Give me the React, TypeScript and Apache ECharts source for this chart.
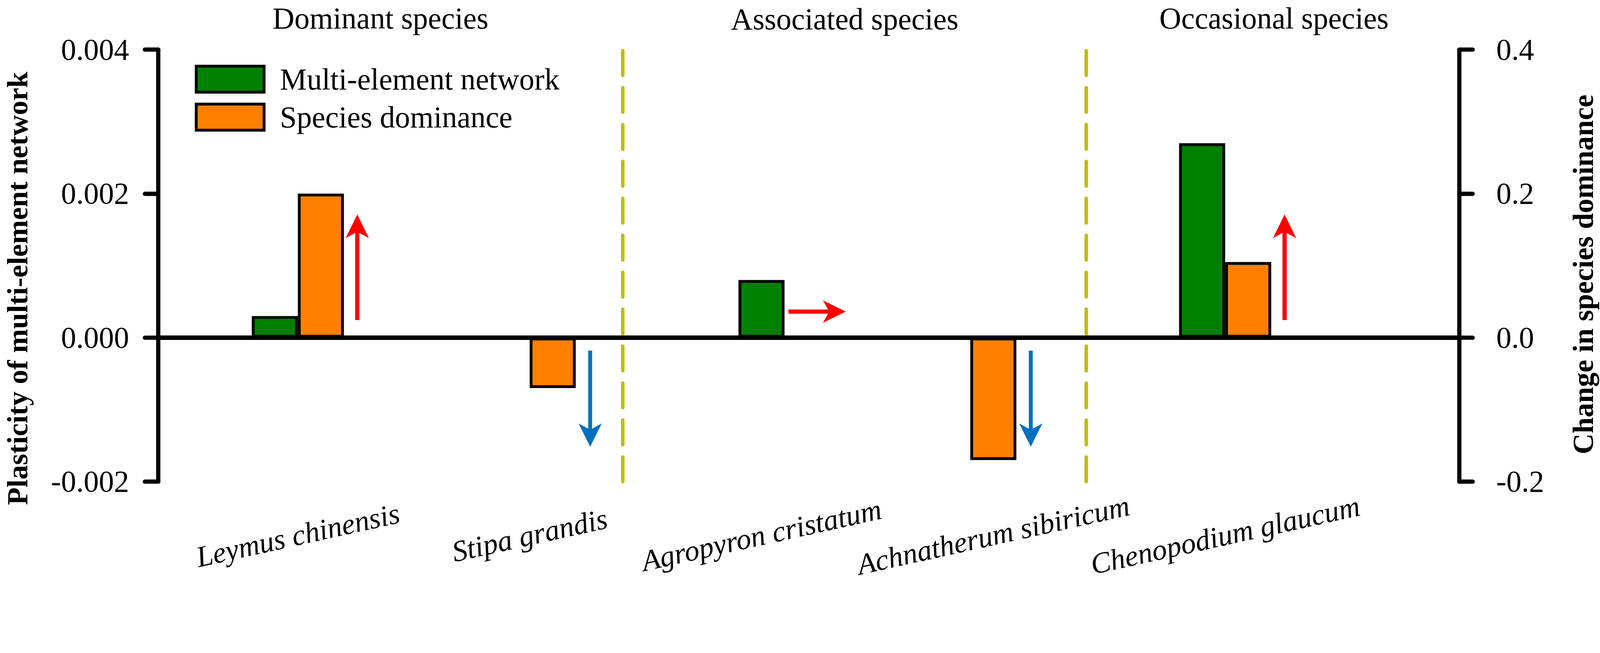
import React, { useEffect, useRef } from "react";
import * as echarts from "echarts";

// ---------- data ----------
const species = [
  "Leymus chinensis",
  "Stipa grandis",
  "Agropyron cristatum",
  "Achnatherum sibiricum",
  "Chenopodium glaucum",
];
// Plasticity of multi-element network (left axis); null = no bar drawn
const networkPlasticity: (number | null)[] = [0.0003, 0, 0.0008, null, 0.0027];
// Change in species dominance (right axis); null = no change (→)
const dominanceChange: (number | null)[] = [0.2, -0.07, null, -0.17, 0.105];

const groupNames = ["Dominant species", "Associated species", "Occasional species"];
const groupSizes = [2, 2, 1];

const leftTicks = { min: -0.002, max: 0.004, interval: 0.002 };
const rightTicks = { min: -0.2, max: 0.4, interval: 0.2 };

const seriesNames = ["Multi-element network", "Species dominance"];
const leftAxisName = "Plasticity of multi-element network";
const rightAxisName = "Change in species dominance";

// ---------- style constants ----------
const W = 4550;
const H = 1671;
const FONT = "'Liberation Serif', 'Times New Roman', Times, serif";
const GREEN = "#008000";
const ORANGE = "#FF8000";
const RED = "#FF0000";
const BLUE = "#0070C0";
const DASH = "#BFBF00";
const BAR_W = 131;
const BORDER = 8;
const GRID = { left: 450, right: W - 4150, top: 141, bottom: H - 1369 };
const X_MIN = -0.6022;
const X_MAX = 5.0102;

export default function App() {
  const ref = useRef<HTMLDivElement>(null);

  useEffect(() => {
    if (!ref.current) return;
    document.body.style.margin = "0";
    const s = Math.min(window.innerWidth / W, window.innerHeight / H) || 1;
    if (Math.abs(s - 1) > 0.001) {
      ref.current.style.transform = `scale(${s})`;
    }
    const chart = echarts.init(ref.current, null, { renderer: "svg", width: W, height: H });

    const isPair = species.map(
      (_, i) => networkPlasticity[i] !== null && dominanceChange[i] !== null
    );
    const greenPair = species
      .map((_, i) => (isPair[i] ? [i, networkPlasticity[i]] : null))
      .filter(Boolean);
    const orangePair = species
      .map((_, i) => (isPair[i] ? [i, dominanceChange[i]] : null))
      .filter(Boolean);
    const greenSingle = species
      .map((_, i) => (!isPair[i] && networkPlasticity[i] !== null ? [i, networkPlasticity[i]] : null))
      .filter(Boolean);
    const orangeSingle = species
      .map((_, i) => (!isPair[i] && dominanceChange[i] !== null ? [i, dominanceChange[i]] : null))
      .filter(Boolean);

    const arrowData = species.map((_, i) => {
      const d = dominanceChange[i];
      const dir = d === null || d === 0 ? 0 : d > 0 ? 1 : -1;
      return [i, 0, dir, isPair[i] ? 1 : 0];
    });

    // group boundaries between categories
    const boundaries: number[] = [];
    let acc = 0;
    groupSizes.forEach((sz, k) => {
      acc += sz;
      if (k < groupSizes.length - 1) boundaries.push(acc - 0.5);
    });

    const frameLine = { color: "#000", width: 12, type: "solid" as const };
    const dashLine = { color: DASH, width: 10, type: [70, 35], cap: "round" as const };

    const xAxisBase = {
      type: "value" as const,
      min: X_MIN,
      max: X_MAX,
      position: "bottom" as const,
      axisLine: { show: false, onZero: false },
      axisTick: { show: false },
      splitLine: { show: false },
    };

    const yLabel = {
      fontFamily: FONT,
      fontSize: 86,
      color: "#000",
    };

    const groupTitleX = [1082, 2402, 3623];
    const groupTitleY = [9, 11, 9];

    const option: any = {
      animation: false,
      backgroundColor: "#fff",
      textStyle: { fontFamily: FONT },
      grid: { ...GRID, containLabel: false },
      legend: {
        data: seriesNames,
        orient: "vertical",
        left: 549,
        top: 177,
        itemWidth: 193,
        itemHeight: 74,
        itemGap: 22,
        icon: "rect",
        selectedMode: false,
        itemStyle: { borderColor: "#000", borderWidth: BORDER },
        textStyle: { fontFamily: FONT, fontSize: 86, color: "#000", padding: [0, 0, 0, 40] },
      },
      xAxis: [
        {
          ...xAxisBase,
          axisLabel: {
            show: true,
            customValues: species.map((_, i) => i),
            formatter: (v: number) => species[Math.round(v)] ?? "",
            rotate: 12.5,
            align: "center",
            verticalAlign: "middle",
            margin: 152,
            fontFamily: FONT,
            fontStyle: "italic",
            fontSize: 84,
            color: "#000",
          },
        },
        { ...xAxisBase, show: false },
        { ...xAxisBase, show: false },
      ],
      yAxis: [
        {
          type: "value",
          position: "left",
          ...leftTicks,
          axisLine: { show: true, onZero: false, lineStyle: { color: "#000", width: 12 } },
          axisTick: { show: true, inside: false, length: 38, lineStyle: { color: "#000", width: 12, cap: "round" } },
          axisLabel: { ...yLabel, margin: 83, formatter: (v: number) => v.toFixed(3) },
          splitLine: { show: false },
        },
        {
          type: "value",
          position: "right",
          ...rightTicks,
          axisLine: { show: true, onZero: false, lineStyle: { color: "#000", width: 12 } },
          axisTick: { show: true, inside: false, length: 38, lineStyle: { color: "#000", width: 12, cap: "round" } },
          axisLabel: { ...yLabel, margin: 105, formatter: (v: number) => v.toFixed(1) },
          splitLine: { show: false },
        },
      ],
      series: [
        {
          name: seriesNames[0],
          type: "bar",
          xAxisIndex: 0,
          yAxisIndex: 0,
          data: greenPair,
          barWidth: BAR_W,
          barGap: "0%",
          itemStyle: { color: GREEN, borderColor: "#000", borderWidth: BORDER },
          z: 3,
          markLine: {
            silent: true,
            symbol: ["none", "none"],
            label: { show: false },
            emphasis: { disabled: true },
            z: 4,
            data: [
              ...boundaries.map((b) => ({ xAxis: b, lineStyle: dashLine })),
              { yAxis: leftTicks.max, lineStyle: frameLine },
              { yAxis: 0, lineStyle: frameLine },
              { yAxis: leftTicks.min, lineStyle: frameLine },
            ],
          },
        },
        {
          name: seriesNames[1],
          type: "bar",
          xAxisIndex: 0,
          yAxisIndex: 1,
          data: orangePair,
          barWidth: BAR_W,
          barGap: "0%",
          itemStyle: { color: ORANGE, borderColor: "#000", borderWidth: BORDER },
          z: 3,
        },
        {
          name: seriesNames[0],
          type: "bar",
          xAxisIndex: 1,
          yAxisIndex: 0,
          data: greenSingle,
          barWidth: BAR_W,
          itemStyle: { color: GREEN, borderColor: "#000", borderWidth: BORDER },
          z: 3,
        },
        {
          name: seriesNames[1],
          type: "bar",
          xAxisIndex: 2,
          yAxisIndex: 1,
          data: orangeSingle,
          barWidth: BAR_W,
          itemStyle: { color: ORANGE, borderColor: "#000", borderWidth: BORDER },
          z: 3,
        },
        {
          name: "arrows",
          type: "custom",
          xAxisIndex: 0,
          yAxisIndex: 1,
          silent: true,
          clip: false,
          z: 5,
          encode: { x: 0, y: 1 },
          data: arrowData,
          renderItem: (params: any, api: any) => {
            const i = api.value(0);
            const dir = api.value(2);
            const pair = api.value(3);
            const pt = api.coord([i, 0]);
            const cx = pt[0];
            const zy = pt[1];
            const edge = cx + (pair ? BAR_W : BAR_W / 2) + BORDER / 2;
            if (dir > 0) {
              const ax = edge + 34;
              const tipY = zy - 350;
              const baseY = zy - 50;
              return {
                type: "group",
                children: [
                  { type: "rect", shape: { x: ax - 6, y: tipY + 45, width: 12, height: baseY - tipY - 45 }, style: { fill: RED } },
                  {
                    type: "polygon",
                    shape: { points: [[ax, tipY], [ax + 33, tipY + 67], [ax, tipY + 49], [ax - 33, tipY + 67]] },
                    style: { fill: RED },
                  },
                ],
              };
            } else if (dir < 0) {
              const ax = edge + 37;
              const startY = zy + 37;
              const tipY = zy + 310;
              return {
                type: "group",
                children: [
                  { type: "rect", shape: { x: ax - 5.5, y: startY, width: 11, height: tipY - 45 - startY }, style: { fill: BLUE } },
                  {
                    type: "polygon",
                    shape: { points: [[ax, tipY], [ax + 33, tipY - 66], [ax, tipY - 48], [ax - 33, tipY - 66]] },
                    style: { fill: BLUE },
                  },
                ],
              };
            }
            const y = zy - 74;
            const sx = edge + 7;
            const tx = edge + 170;
            return {
              type: "group",
              children: [
                { type: "rect", shape: { x: sx, y: y - 6, width: tx - 45 - sx, height: 12 }, style: { fill: RED } },
                {
                  type: "polygon",
                  shape: { points: [[tx, y], [tx - 65, y - 32], [tx - 47, y], [tx - 65, y + 32]] },
                  style: { fill: RED },
                },
              ],
            };
          },
        },
      ],
      graphic: [
        ...groupNames.map((g, k) => ({
          type: "text",
          x: groupTitleX[k],
          y: groupTitleY[k],
          silent: true,
          style: {
            text: g,
            fontFamily: FONT,
            fontSize: 86,
            fill: "#000",
            textAlign: "center",
            textVerticalAlign: "top",
          },
        })),
        {
          type: "text",
          x: 50,
          y: 820,
          rotation: Math.PI / 2,
          silent: true,
          style: {
            text: leftAxisName,
            fontFamily: FONT,
            fontWeight: "bold",
            fontSize: 82,
            fill: "#000",
            textAlign: "center",
            textVerticalAlign: "middle",
          },
        },
        {
          type: "text",
          x: 4502,
          y: 780,
          rotation: Math.PI / 2,
          silent: true,
          style: {
            text: rightAxisName,
            fontFamily: FONT,
            fontWeight: "bold",
            fontSize: 82,
            fill: "#000",
            textAlign: "center",
            textVerticalAlign: "middle",
          },
        },
      ],
    };

    chart.setOption(option);
    return () => chart.dispose();
  }, []);

  return (
    <div
      ref={ref}
      style={{
        position: "fixed",
        left: 0,
        top: 0,
        width: W,
        height: H,
        background: "#fff",
        transformOrigin: "0 0",
      }}
    />
  );
}
